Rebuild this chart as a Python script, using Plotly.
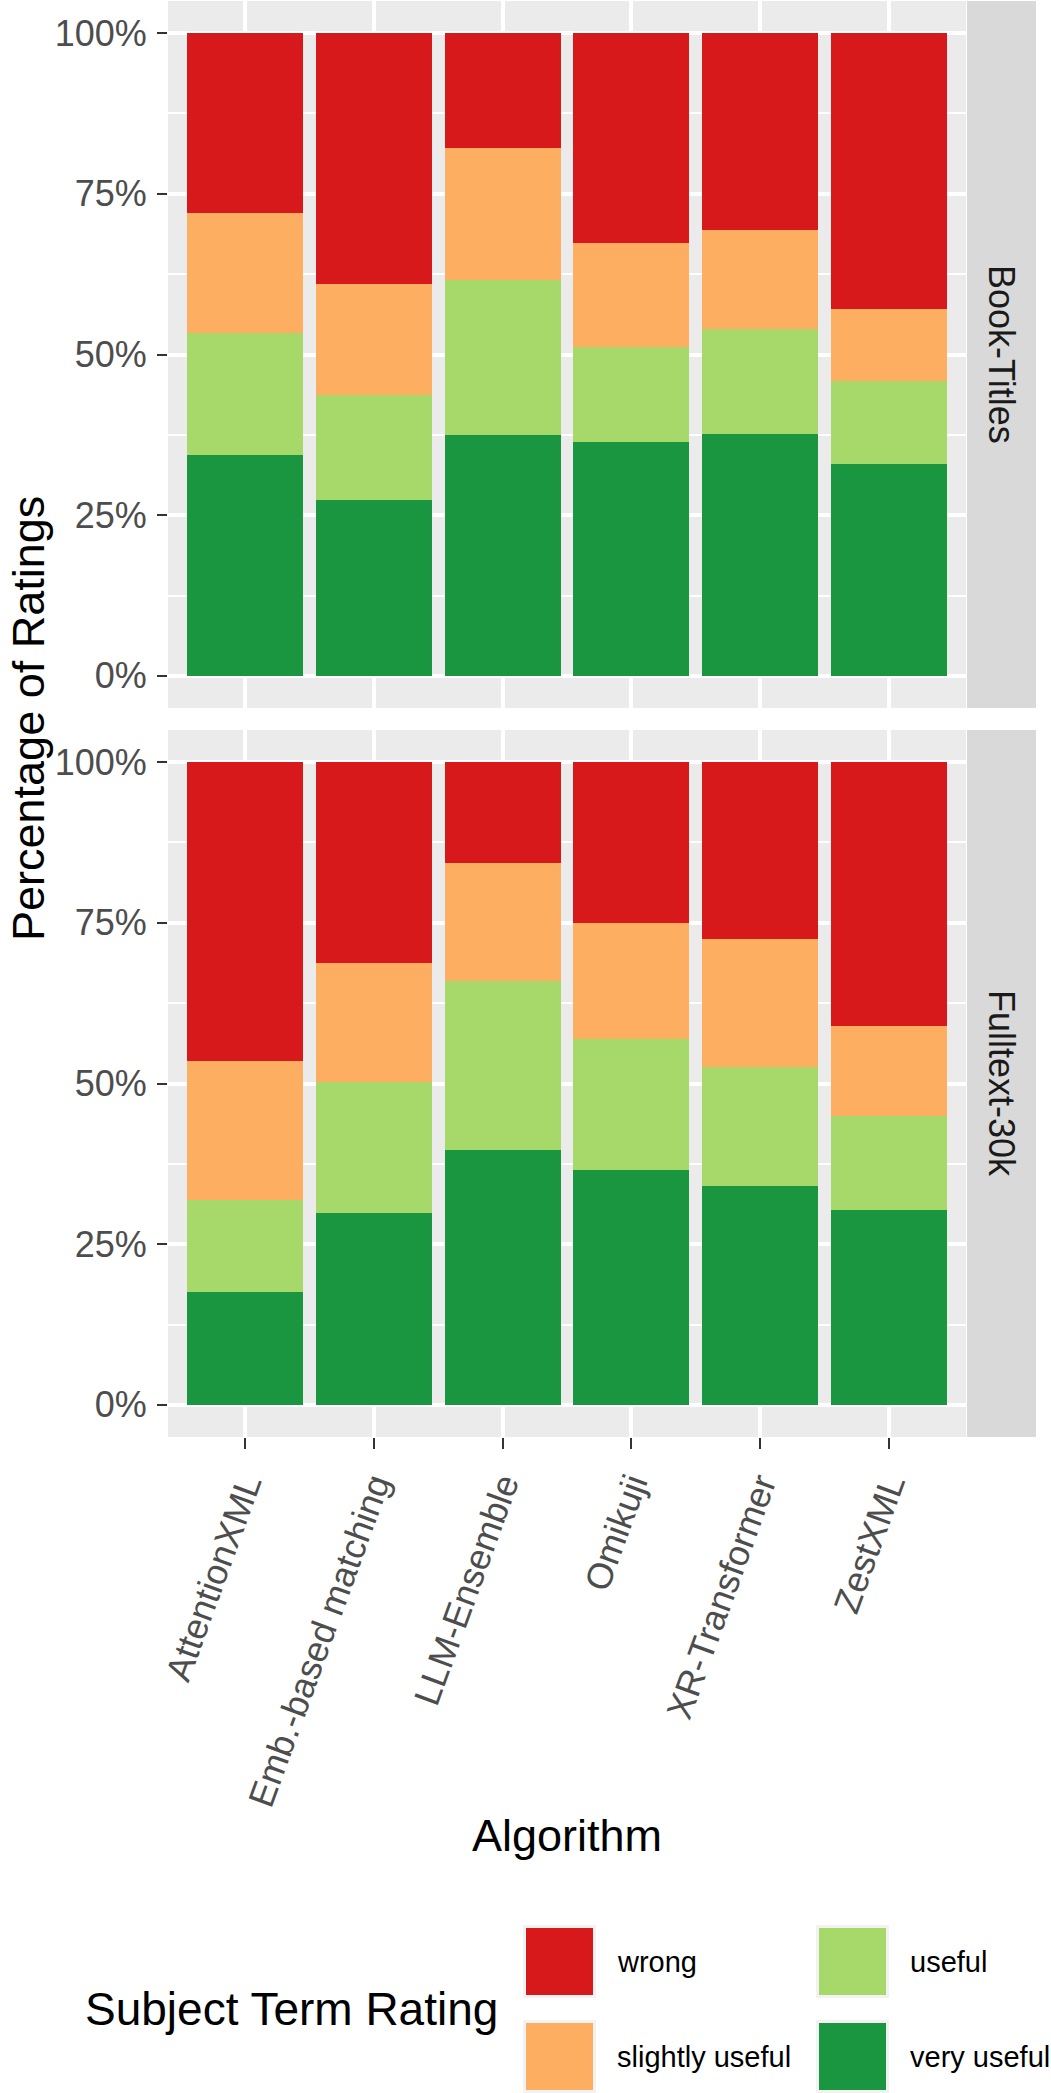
import plotly.graph_objects as go

W, H = 1051, 2093

algorithms = ["AttentionXML", "Emb.-based matching", "LLM-Ensemble", "Omikuji", "XR-Transformer", "ZestXML"]
ratings = ["very useful", "useful", "slightly useful", "wrong"]
colors = {"wrong": "#D7191C", "slightly useful": "#FDAE61", "useful": "#A6D96A", "very useful": "#1A9641"}
facets = ["Book-Titles", "Fulltext-30k"]

# percentage of ratings per algorithm (segment shares)
book_very_useful = [34.3, 27.3, 37.5, 36.4, 37.7, 33.0]
book_useful = [19.0, 16.4, 24.1, 14.7, 16.3, 12.9]
book_slightly_useful = [18.7, 17.2, 20.5, 16.3, 15.4, 11.2]
book_wrong = [28.0, 39.1, 17.9, 32.6, 30.6, 42.9]

full_very_useful = [17.6, 29.9, 39.7, 36.5, 34.0, 30.3]
full_useful = [14.3, 20.4, 26.3, 20.4, 18.6, 14.7]
full_slightly_useful = [21.6, 18.5, 18.3, 18.0, 19.9, 13.9]
full_wrong = [46.5, 31.2, 15.7, 25.1, 27.5, 41.1]

data = {
    "Book-Titles": {"very useful": book_very_useful, "useful": book_useful,
                    "slightly useful": book_slightly_useful, "wrong": book_wrong},
    "Fulltext-30k": {"very useful": full_very_useful, "useful": full_useful,
                     "slightly useful": full_slightly_useful, "wrong": full_wrong},
}

y_ticks = [0, 25, 50, 75, 100]
y_ticktext = ["0%", "25%", "50%", "75%", "100%"]

FONT = "Liberation Sans, Arial, sans-serif"

def px_x(p):
    return p / W

def px_y(p):
    return 1 - p / H

# layout geometry (pixels)
PX_L, PX_R = 168, 966
panels_px = [(1, 708), (730, 1437)]
STRIP_L, STRIP_R = 967, 1036

fig = go.Figure()
for i, facet in enumerate(facets):
    xa = "x" if i == 0 else "x2"
    ya = "y" if i == 0 else "y2"
    for r in ratings:
        fig.add_trace(go.Bar(
            x=algorithms, y=data[facet][r], name=r, xaxis=xa, yaxis=ya,
            marker=dict(color=colors[r], line=dict(width=0)),
            width=0.9, showlegend=False,
        ))

common_x = dict(
    type="category", categoryorder="array", categoryarray=algorithms,
    range=[-0.6, 5.6], showgrid=True, gridcolor="white", gridwidth=4.3,
    zeroline=False, showline=False, domain=[px_x(PX_L), px_x(PX_R)],
    automargin=False,
)
common_y = dict(
    range=[-5, 105], tickvals=y_ticks, ticktext=y_ticktext,
    showgrid=True, gridcolor="white", gridwidth=4.3, zeroline=False, showline=False,
    ticks="outside", ticklen=10, tickwidth=2.2, tickcolor="#333333",
    tickfont=dict(family=FONT, size=36, color="#4D4D4D"), ticklabelstandoff=3,
    minor=dict(dtick=12.5, tick0=0, showgrid=True, gridcolor="white", gridwidth=2.2, ticks=""),
    automargin=False,
)

fig.update_layout(
    width=W, height=H, margin=dict(l=0, r=0, t=0, b=0, pad=0, autoexpand=False),
    paper_bgcolor="white", plot_bgcolor="#EBEBEB",
    barmode="stack", bargap=0.1, showlegend=False,
    font=dict(family=FONT),
    xaxis=dict(**common_x, anchor="y", showticklabels=False, ticks=""),
    xaxis2=dict(**common_x, anchor="y2", ticks="outside", ticklen=11, tickwidth=2.2,
                tickcolor="#333333", tickangle=-70,
                tickfont=dict(family=FONT, size=36, color="#4D4D4D")),
    yaxis=dict(**common_y, anchor="x",
               domain=[px_y(panels_px[0][1]), px_y(panels_px[0][0])]),
    yaxis2=dict(**common_y, anchor="x2",
                domain=[px_y(panels_px[1][1]), px_y(panels_px[1][0])]),
)

shapes = []
annotations = []
# facet strips
for facet, (t, b) in zip(facets, panels_px):
    shapes.append(dict(type="rect", xref="paper", yref="paper",
                       x0=px_x(STRIP_L), x1=px_x(STRIP_R), y0=px_y(b), y1=px_y(t),
                       fillcolor="#D9D9D9", line=dict(width=0), layer="below"))
    annotations.append(dict(text=facet, xref="paper", yref="paper",
                            x=px_x((STRIP_L + STRIP_R) / 2), y=px_y((t + b) / 2),
                            xanchor="center", yanchor="middle", textangle=90, showarrow=False,
                            font=dict(family=FONT, size=36, color="#1A1A1A")))

# axis titles
annotations.append(dict(text="Percentage of Ratings", xref="paper", yref="paper",
                        x=px_x(28), y=px_y((panels_px[0][0] + panels_px[1][1]) / 2),
                        xanchor="center", yanchor="middle", textangle=-90, showarrow=False,
                        font=dict(family=FONT, size=45, color="black")))
annotations.append(dict(text="Algorithm", xref="paper", yref="paper",
                        x=px_x((PX_L + PX_R) / 2), y=px_y(1835),
                        xanchor="center", yanchor="middle", showarrow=False,
                        font=dict(family=FONT, size=45, color="black")))

# legend (manual, ggplot style)
annotations.append(dict(text="Subject Term Rating", xref="paper", yref="paper",
                        x=px_x(83), y=px_y(2009), xanchor="left", yanchor="middle",
                        showarrow=False, font=dict(family=FONT, size=46, color="black")))
legend_order = ["wrong", "slightly useful", "useful", "very useful"]
key_cols = [526, 819]
key_rows = [1928, 2023]
KEY = 67
for idx, r in enumerate(legend_order):
    cx = key_cols[idx // 2]
    cy = key_rows[idx % 2]
    shapes.append(dict(type="rect", xref="paper", yref="paper",
                       x0=px_x(cx - 3), x1=px_x(cx + KEY + 3), y0=px_y(cy + KEY + 3), y1=px_y(cy - 3),
                       fillcolor="#F2F2F2", line=dict(width=0)))
    shapes.append(dict(type="rect", xref="paper", yref="paper",
                       x0=px_x(cx), x1=px_x(cx + KEY), y0=px_y(cy + KEY), y1=px_y(cy),
                       fillcolor=colors[r], line=dict(width=0)))
    annotations.append(dict(text=r, xref="paper", yref="paper",
                            x=px_x(cx + KEY + 22), y=px_y(cy + KEY / 2),
                            xanchor="left", yanchor="middle", showarrow=False,
                            font=dict(family=FONT, size=29, color="black")))

fig.update_layout(shapes=shapes, annotations=annotations)
fig.write_html("out.html")
